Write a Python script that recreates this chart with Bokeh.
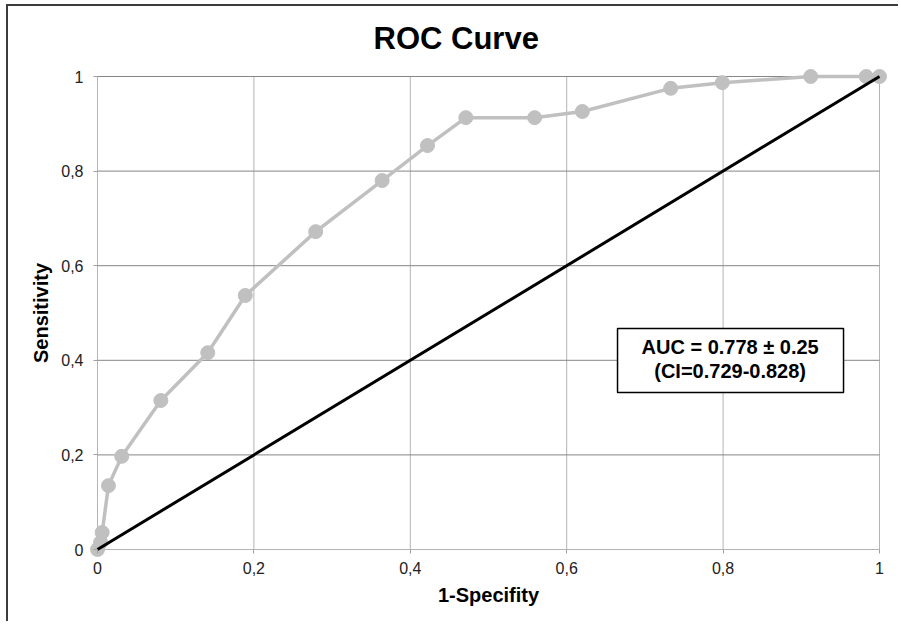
from bokeh.plotting import figure
from bokeh.models import Range1d, FixedTicker, BoxAnnotation, Label
from bokeh.embed import file_html
from bokeh.resources import INLINE

# ---- data ----
title_text = "ROC Curve"
x_label = "1-Specifity"
y_label = "Sensitivity"
tick_values = [0.0, 0.2, 0.4, 0.6, 0.8, 1.0]
tick_labels = ["0", "0,2", "0,4", "0,6", "0,8", "1"]
fpr = [0.0, 0.004, 0.006, 0.014, 0.031, 0.081, 0.141, 0.189, 0.279, 0.364,
       0.422, 0.471, 0.559, 0.620, 0.733, 0.799, 0.912, 0.983, 1.0]
tpr = [0.0, 0.015, 0.036, 0.135, 0.197, 0.315, 0.416, 0.537, 0.672, 0.780,
       0.854, 0.913, 0.913, 0.926, 0.975, 0.987, 1.0, 1.0, 1.0]
ref_x = [0.0, 1.0]
ref_y = [0.0, 1.0]
auc_line1 = "AUC = 0.778 \u00b1 0.25"
auc_line2 = "(CI=0.729-0.828)"

FONT = "Liberation Sans"
PADX = 8 / 782
PADY = 8 / 473

p = figure(width=892, height=617,
           x_range=Range1d(-PADX, 1 + PADX), y_range=Range1d(-PADY, 1 + PADY),
           output_backend="svg", toolbar_location=None,
           min_border_left=81, min_border_right=13,
           min_border_top=62, min_border_bottom=66)
p.outline_line_color = None
p.grid.visible = False
p.background_fill_color = "white"
p.border_fill_color = "white"

# title
p.title.text = title_text
p.title.align = "left"
p.title.offset = 284
p.title.standoff = 25
p.title.text_font = FONT
p.title.text_font_size = "31px"
p.title.text_font_style = "bold"
p.title.text_color = "black"

# grid lines (drawn as segments spanning exactly 0..1)
n = len(tick_values)
p.segment(x0=tick_values, y0=[tick_values[0]] * n, x1=tick_values, y1=[tick_values[-1]] * n,
          line_color="#b4b4b4", line_width=1)
p.segment(x0=[tick_values[0]], y0=[tick_values[0]], x1=[tick_values[-1]], y1=[tick_values[0]],
          line_color="#b4b4b4", line_width=1)
p.segment(x0=[tick_values[0]] * (n - 1), y0=tick_values[1:], x1=[tick_values[-1]] * (n - 1),
          y1=tick_values[1:], line_color="#868686", line_width=1)

# axes
overrides = dict(zip(tick_values, tick_labels))
for ax, lab, stand in ((p.xaxis[0], x_label, 4), (p.yaxis[0], y_label, 6)):
    ax.ticker = FixedTicker(ticks=tick_values)
    ax.major_label_overrides = overrides
    ax.axis_line_color = None
    ax.major_tick_in = 8
    ax.major_tick_out = -4
    ax.major_tick_line_color = "#a0a0a0"
    ax.minor_tick_line_color = None
    ax.major_label_standoff = stand
    ax.major_label_text_font = FONT
    ax.major_label_text_font_size = "16px"
    ax.major_label_text_color = "#222222"
    ax.axis_label = lab
    ax.axis_label_text_font = FONT
    ax.axis_label_text_font_size = "20px"
    ax.axis_label_text_font_style = "bold"
    ax.axis_label_text_color = "black"
    ax.axis_label_standoff = 7 if stand == 4 else 6

# ROC curve
p.line(fpr, tpr, line_color="#c0c0c0", line_width=3.5)
p.scatter(fpr, tpr, size=14, fill_color="#c0c0c0", line_color="#c0c0c0")
# reference diagonal
p.line(ref_x, ref_y, line_color="black", line_width=3)

# AUC box
p.add_layout(BoxAnnotation(left=0.665, right=0.954, bottom=0.332, top=0.467,
                           fill_color="white", fill_alpha=1.0,
                           line_color="black", line_alpha=1.0, line_width=1.5))
for txt, yy in ((auc_line1, 0.429), (auc_line2, 0.378)):
    p.add_layout(Label(x=0.809, y=yy, text=txt, text_align="center",
                       text_baseline="middle", text_font=FONT,
                       text_font_size="20px", text_font_style="bold",
                       text_color="black"))

p.styles = {"margin-left": "6px", "margin-top": "4px",
            "border-left": "2px solid #3c3c3c", "border-top": "2px solid #3c3c3c"}

open("out.html", "w").write(file_html(p, INLINE))
